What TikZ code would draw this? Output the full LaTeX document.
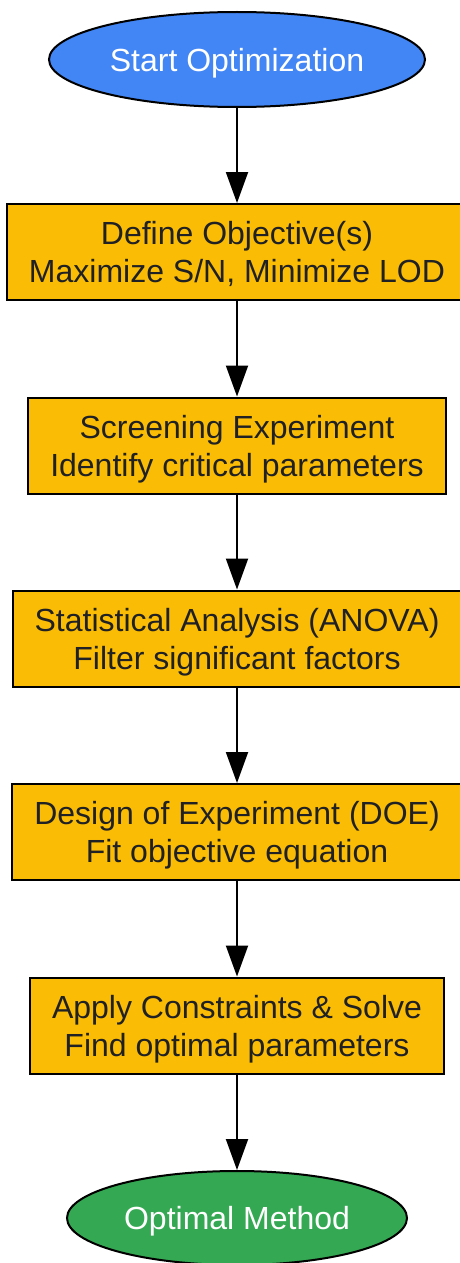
\documentclass[tikz,border=0pt]{standalone}
\usepackage{fontspec}
\setmainfont{Liberation Sans}
\usetikzlibrary{shapes.geometric,arrows.meta}
\definecolor{startblue}{HTML}{4285F4}
\definecolor{stepyellow}{HTML}{FBBC05}
\definecolor{endgreen}{HTML}{34A853}
\definecolor{inkgray}{HTML}{202124}
\tikzset{
  terminal/.style={ellipse, draw=black, line width=2pt, inner sep=0pt,
    text=white, text depth=0pt, font=\fontsize{32}{38}\selectfont},
  stepbox/.style={rectangle, draw=black, line width=2pt, fill=stepyellow,
    text=inkgray, align=center, inner xsep=22pt, inner ysep=0pt,
    text depth=0pt, minimum height=96pt, font=\fontsize{32}{38}\selectfont},
  flow/.style={line width=2pt, -{Triangle[length=31pt,width=22pt]}}
}
\begin{document}
\begin{tikzpicture}[x=1pt,y=-1pt]
  \useasboundingbox (0,0) rectangle (460,1263);

  % Start of the flow
  \node [terminal, fill=startblue, minimum width=376pt, minimum height=95pt]
    (start) at (237,59.5) {Start Optimization};

  % Steps
  \node [stepbox] (objective) at (237,252) {Define Objective(s)\\Maximize S/N, Minimize LOD};
  \node [stepbox] (screening) at (237,445.5) {Screening Experiment\\Identify critical parameters};
  \node [stepbox] (anova) at (237,638.5) {Statistical Analysis (ANOVA)\\Filter significant factors};
  \node [stepbox] (doe) at (237,832) {Design of Experiment (DOE)\\Fit objective equation};
  \node [stepbox] (solve) at (237,1025.5) {Apply Constraints \& Solve\\Find optimal parameters};

  % End of the flow
  \node [terminal, fill=endgreen, minimum width=340pt, minimum height=94pt]
    (optimal) at (237,1218) {Optimal Method};

  % Connectors
  \draw [flow] (start) -- (objective);
  \draw [flow] (objective) -- (screening);
  \draw [flow] (screening) -- (anova);
  \draw [flow] (anova) -- (doe);
  \draw [flow] (doe) -- (solve);
  \draw [flow] (solve) -- (optimal);
\end{tikzpicture}
\end{document}
